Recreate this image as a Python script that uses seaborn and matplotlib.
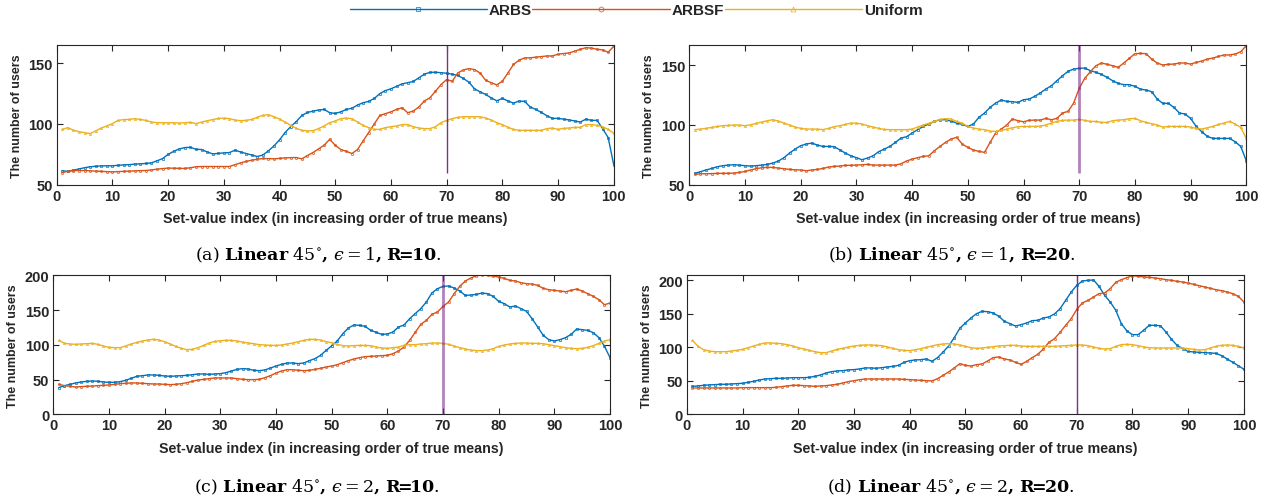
import numpy as np
import pandas as pd
import matplotlib
matplotlib.use("Agg")
import matplotlib.pyplot as plt
import seaborn as sns

# set-value index 1..100
set_index = list(range(1, 101))

# (a) Linear 45, eps=1, R=10
arbs_a = [61.5, 61, 62, 63, 64, 64.8, 65.2, 65.5, 65.6, 65.6, 66, 66.3, 66.5, 67, 67.2, 67.5, 68, 69.7, 71.5, 75,
          77.5, 79.5, 80.6, 80.8, 79.2, 79, 77, 75.4, 75.8, 76.2, 76.5, 78.4, 77, 75.7, 74.5, 73.2, 74.5, 77.9, 82, 87,
          93, 97.8, 102, 107, 109.5, 110.6, 111.5, 112, 109.3, 108.7, 110, 112, 113, 115.6, 117.5, 118.6, 121, 125, 127.5, 129,
          131, 133, 134, 135, 138, 141, 142.5, 142.6, 142.2, 141.8, 141, 140, 137.5, 134.4, 129, 126.5, 124.3, 121.5, 119.1, 121,
          119, 117.2, 118.9, 118.6, 114, 112, 109.5, 106.8, 104.6, 104.6, 104, 103.3, 102.5, 101.6, 104, 103, 103, 96.2, 88.8, 66.4]
arbsf_a = [60, 61, 61.7, 61.7, 61.7, 61.5, 61.2, 61, 60.8, 60.6, 60.8, 61, 61.2, 61.4, 61.6, 61.7, 62.2, 62.8, 63.3, 63.7,
           63.6, 63.5, 63.4, 64, 64.8, 65, 65, 65, 65, 65, 65, 66.5, 68, 69.2, 70.2, 71, 71.6, 71.5, 71.3, 71.7,
           72.1, 72.3, 72.4, 71.3, 74, 76.5, 79.5, 82.5, 87.4, 82.5, 79, 77.5, 75.7, 79, 86, 93, 100, 107, 108.5, 110,
           112, 113.4, 109.3, 110.6, 114, 118.9, 121.6, 127, 132.5, 136.6, 135.2, 142, 144.5, 145.6, 144.8, 142, 136, 134, 132.2, 135.2,
           142, 149, 152.5, 154.4, 154.5, 155, 155.5, 156, 156, 157.5, 158, 158.5, 160, 161.5, 162.8, 162.5, 161.5, 161, 159, 164]
uniform_a = [95.6, 97, 94.8, 93.7, 92.9, 92.1, 94.3, 96.7, 98.4, 100.3, 103, 103.6, 103.8, 104.4, 103.8, 103, 101.6, 101.1, 101, 101,
             101, 100.8, 101, 101.4, 100.3, 101.6, 102.7, 103.6, 104.6, 104.9, 104.4, 103.3, 102.7, 103, 103.8, 105.5, 107.1, 107.7, 106, 104.1,
             101.6, 98.9, 96.4, 94.8, 94.3, 94.5, 96.2, 98.4, 101.1, 102.5, 104.4, 104.9, 104.4, 101.6, 98.9, 97, 95.6, 95.6, 97, 97.8,
             98.4, 99.5, 99.5, 97.8, 96.7, 96.2, 96.2, 97.8, 101.1, 103, 104.4, 105.5, 106, 106, 106, 106, 104.9, 103.3, 101.1, 99.5,
             97.3, 95.6, 94.8, 94.8, 94.8, 94.8, 94.8, 96.2, 96.7, 95.6, 96.4, 96.7, 97.3, 97.3, 99.5, 99.5, 98.9, 97.8, 95.6, 92.3]

# (b) Linear 45, eps=1, R=20
arbs_b = [59.5, 60.9, 62.3, 63.6, 65, 65.9, 66.4, 66.7, 66.4, 65.9, 65.6, 65.9, 66.4, 67, 68.1, 69.8, 72.6, 76.5, 79.8, 82.6,
          84, 84.8, 83.1, 82, 82, 81.8, 79.2, 76.5, 74.2, 72.6, 70.9, 72.3, 74.2, 77.6, 79.8, 82, 85.4, 89, 90.1, 93.2,
          96, 98.7, 100.7, 102.9, 104.3, 104.3, 103.2, 101.5, 100.4, 98.7, 100.7, 106.3, 109.9, 114.6, 118.2, 120.8, 119.6, 119.4, 118.8, 121,
          121.6, 123.8, 126.6, 129.9, 132.7, 136.9, 141.1, 144.7, 146.7, 147.2, 147.5, 145.3, 143.9, 142.2, 139.7, 136.9, 134.7, 133.6, 133.6, 132.2,
          129.9, 129.1, 127.7, 121.6, 118, 118, 114.6, 109.9, 109.1, 105.4, 98.7, 94.3, 90.4, 88.7, 88.7, 88.7, 88.7, 85.9, 82, 70]
arbsf_b = [58.6, 59.2, 59.2, 59.3, 59.5, 59.5, 59.6, 59.7, 60.3, 61.1, 62.3, 63.4, 64.2, 64.5, 64.5, 63.9, 63.4, 62.8, 62.5, 62.3,
           61.7, 62.3, 62.8, 63.6, 64.8, 65.3, 65.6, 66.2, 66.2, 66.4, 66.7, 67, 66.4, 66.4, 66.4, 66.4, 66.4, 67.5, 69.8, 71.4,
           72.6, 73.7, 74.2, 78.4, 82, 85.4, 88.2, 89.6, 84, 81.2, 79, 77.9, 77, 85.4, 93.2, 96.5, 99.9, 104.9, 103.5, 102.6,
           103.8, 104, 104, 105.4, 104.3, 105.4, 109.9, 111.3, 118.2, 130.5, 138.9, 144.4, 149.4, 151.7, 150.6, 149.4, 148, 151.7, 155.6, 159.5,
           159.7, 159.5, 155, 151.7, 150, 150.6, 150.8, 151.7, 151.7, 150.8, 152.2, 153.3, 155, 155.8, 157.2, 158.4, 158.4, 159.2, 161.1, 166.2]
uniform_b = [96, 96.5, 97.1, 97.9, 98.7, 99.3, 99.6, 99.9, 99.9, 99.3, 100.1, 101.3, 102.4, 103.5, 104.3, 103.2, 101.5, 99.9, 98.2, 97.1,
             96.5, 96.5, 96.5, 96, 97.1, 98.5, 99.3, 100.4, 101.5, 101.5, 100.7, 99.3, 98.2, 97.1, 96.2, 96, 96, 96, 96, 96.5,
             98.2, 99.9, 101.3, 102.9, 104.6, 105.2, 104.9, 102.9, 101.4, 98.7, 97.4, 96.5, 96, 94.8, 94.6, 95.4, 96.5, 97.6, 98.5, 98.7,
             98.7, 98.7, 99, 99.9, 101.5, 102.9, 103.8, 104, 104, 104.6, 103.8, 102.9, 102.9, 102.1, 102.1, 103.5, 104, 104.3, 105.2, 105.4,
             103.5, 102.1, 101, 99.9, 98.2, 98.7, 98.7, 98.7, 98.7, 98.2, 97.1, 96.5, 97.6, 98.7, 100.4, 101.5, 102.9, 100.7, 97.9, 88.7]

# (c) Linear 45, eps=2, R=10
arbs_c = [38.4, 41.2, 43.1, 45.1, 46.5, 47.5, 47.9, 47.5, 46.5, 46, 46, 47, 48.9, 51.8, 54.7, 55.6, 56.6, 56.6, 56.1, 55.1,
          54.7, 55.1, 55.6, 56.1, 57, 58, 58, 57.5, 58, 58.5, 59.9, 62.3, 64.7, 65.7, 65.2, 63.3, 62.8, 63.8, 66.6, 69.5,
          71.9, 73.8, 73.8, 72.9, 73.8, 77.2, 80.1, 84.9, 92, 98.5, 105.5, 116, 124.2, 128.5, 128, 126.6, 120.8, 117.9, 115, 115.5,
          118.4, 125.6, 128.5, 137.6, 144.8, 152, 161.6, 174.5, 180.7, 184.1, 184.6, 181.7, 177.4, 171.1, 171.6, 172.6, 174.5, 173.5, 169.7, 162.5,
          159.2, 154.4, 155.8, 152, 148.1, 137.6, 125.6, 113.6, 107.4, 105.5, 107.4, 110.3, 115, 122.7, 121.8, 120.8, 117.4, 110.3, 97.8, 81.5]
arbsf_c = [43.1, 41.2, 40.3, 39.3, 39.8, 40.3, 40.7, 41.2, 41.7, 42.2, 43.1, 44.1, 44.6, 45.1, 45.1, 44.6, 44.1, 43.6, 43.6, 43.1,
           42.7, 43.1, 44.1, 45.5, 47.5, 49.4, 50.3, 51.3, 52.3, 52.3, 52.3, 52.3, 51.3, 50.3, 49.9, 49.9, 50.3, 52.7, 55.6, 59.4,
           62.3, 64.2, 64.2, 63.3, 62.8, 63.3, 64.7, 66.2, 68.1, 69.5, 71.4, 74.3, 77.2, 79.6, 81.5, 82.9, 83.4, 83.9, 84.4, 84.9,
           87.2, 91.1, 96.8, 106.4, 117.9, 129.4, 135.2, 143.8, 147.2, 155.3, 161.6, 173.5, 184.1, 191.8, 196.1, 199.4, 200.4, 199.9, 198.9, 197.5,
           195.6, 192.7, 191.8, 189.4, 187.9, 187.4, 185.5, 181.2, 179.3, 178.3, 177.4, 176.4, 178.3, 180.3, 177.4, 173.5, 169.7, 164.9, 157.7, 160.1]
uniform_c = [106.4, 102.1, 101.2, 100.7, 101.2, 101.6, 102.1, 100.7, 98.3, 96.4, 95.9, 95.9, 98.3, 101.2, 103.5, 105.5, 106.9, 107.9, 106.9, 104.5,
             101.2, 97.8, 94.9, 93, 93.5, 95.9, 99.2, 102.6, 105, 105.9, 106.4, 106.4, 105.5, 104, 102.6, 101.6, 100.2, 99.7, 99.2, 99.2,
             99.7, 101.2, 102.6, 104.5, 106.4, 107.9, 107.9, 106.9, 104.5, 103, 100.7, 98.8, 98.3, 98.8, 99.2, 99.2, 98.8, 96.8, 95.4, 94.9,
             95.9, 96.8, 99.2, 100.2, 100.2, 101.2, 101.6, 102.6, 102.6, 102.1, 100.7, 98.3, 95.9, 94, 92.5, 91.6, 91.6, 92.5, 94.4, 97.8,
             99.7, 101.2, 102.1, 102.6, 102.6, 102.1, 102.1, 101.6, 100.2, 98.8, 97.3, 95.9, 94.9, 94.4, 94.9, 96.4, 98.8, 102.1, 105.5, 107.4]

# (d) Linear 45, eps=2, R=20
arbs_d = [41.8, 42.3, 43.3, 43.8, 44.3, 44.8, 44.8, 45.3, 45.8, 46.3, 47.8, 49.3, 51.2, 52.7, 53.2, 53.7, 53.7, 54.2, 54.7, 54.7,
          54.7, 55.2, 56.7, 58.7, 61.7, 63.7, 64.7, 65.2, 66.2, 66.7, 67.7, 69.2, 69.2, 68.7, 69.7, 70.6, 71.6, 73.1, 77.6, 80.1,
          81.1, 81.6, 82.6, 79.1, 84.6, 93, 102, 114.4, 128.4, 136.3, 143.8, 150.2, 153.7, 153.2, 151.2, 146.3, 138.8, 135.3, 131.8, 133.8,
          136.3, 139.8, 140.3, 143.8, 145.3, 149.8, 157.7, 170.1, 182.6, 192.5, 199, 200, 200.5, 191, 177.6, 167.7, 155.2, 135.3, 124.4, 118.9,
          118.9, 125.4, 132.8, 132.8, 132.3, 122.9, 111.9, 103, 98, 94, 93, 92.5, 92, 91.5, 91, 87.6, 82.6, 77.6, 72.6, 67.2]
arbsf_d = [39.3, 39.3, 39.3, 39.3, 39.3, 39.3, 39.3, 39.3, 39.3, 39.8, 39.8, 39.8, 39.8, 39.8, 39.8, 40.3, 41.3, 42.3, 43.3, 43.3,
           42.8, 42.3, 41.8, 42.3, 42.8, 43.8, 44.8, 46.8, 48.8, 50.2, 51.7, 52.7, 52.7, 52.7, 52.7, 52.7, 52.7, 52.7, 52.2, 51.7,
           51.2, 50.7, 50.2, 49.8, 53.2, 58.2, 63.2, 69.2, 75.6, 73.1, 72.1, 74.1, 75.1, 79.6, 84.6, 85.6, 82.6, 81.1, 77.6, 74.6,
           79.1, 84.6, 89.6, 97.5, 107.5, 112.9, 122.4, 132.8, 142.8, 156.7, 166.2, 170.1, 175.1, 180.1, 181.1, 187.6, 197, 201, 204, 207,
           206, 205, 204.5, 203.5, 202.5, 201, 200, 198.5, 197.5, 196, 194, 192, 190, 188, 186, 184.6, 182.6, 180.1, 176.1, 167.7]
uniform_d = [110.4, 101.5, 96.5, 94.5, 93.5, 93.5, 93.5, 94.5, 95.5, 97, 99.5, 102, 104.5, 106.5, 106.5, 106, 105.5, 104, 102, 99.5,
             97.5, 95.5, 93.5, 92, 92, 94.5, 97, 98.5, 100.5, 102, 103, 103.5, 103.5, 103, 102.5, 100.5, 98.5, 96.5, 95.5, 95,
             96.5, 98, 100, 102, 104, 105, 105.5, 105, 103.5, 101.5, 99.5, 98.5, 99, 100, 101, 102, 102.5, 103, 103, 102,
             101.5, 101.5, 101.5, 101.5, 101.5, 101.5, 102, 102.5, 103, 103.5, 103.5, 102.5, 100.5, 98.5, 97.5, 98, 101.5, 104, 104.5, 104,
             102.5, 100.5, 99.5, 99, 99, 99, 99, 99, 99, 98, 97, 96, 96.5, 99, 101.5, 103, 103.5, 103, 101.5, 99]

panels = [
    ("a", arbs_a, arbsf_a, uniform_a, (50, 165), [50, 100, 150], 60, "1", "10"),
    ("b", arbs_b, arbsf_b, uniform_b, (50, 166.7), [50, 100, 150], 59.5, "1", "20"),
    ("c", arbs_c, arbsf_c, uniform_c, (0, 200), [0, 50, 100, 150, 200], 0, "2", "10"),
    ("d", arbs_d, arbsf_d, uniform_d, (0, 207.5), [0, 50, 100, 150, 200], 0, "2", "20"),
]

# axes rectangles in figure fractions
positions = {
    "a": [0.0446, 0.630, 0.4379, 0.2783],
    "b": [0.5419, 0.630, 0.4379, 0.2783],
    "c": [0.0419, 0.1727, 0.4377, 0.2769],
    "d": [0.5400, 0.1727, 0.4379, 0.2769],
}
caption_pos = {"a": (0.250, 0.492), "b": (0.748, 0.492), "c": (0.249, 0.030), "d": (0.747, 0.030)}

BLUE, RED, YELLOW, PURPLE = "#0072BD", "#D95319", "#EDB120", "#7E2F8E"
AX_COLOR = "#262626"
EPS = "\u03f5"  # lunate epsilon

sns.set_style("ticks")
plt.rcParams["font.family"] = ["Liberation Sans", "DejaVu Sans"]
plt.rcParams["mathtext.fontset"] = "dejavuserif"

fig = plt.figure(figsize=(12.72, 5.02), dpi=100)

for name, arbs, arbsf, uni, ylim, yticks, vmin, eps, r in panels:
    ax = fig.add_axes(positions[name])
    df = pd.DataFrame({"idx": set_index, "ARBS": arbs, "ARBSF": arbsf, "Uniform": uni})
    line_kw = dict(linewidth=1.0, markersize=1.6, markeredgewidth=0.5, markerfacecolor="none")
    sns.lineplot(data=df, x="idx", y="ARBS", ax=ax, color=BLUE, marker="s", markeredgecolor=BLUE,
                 label="ARBS", **line_kw)
    sns.lineplot(data=df, x="idx", y="ARBSF", ax=ax, color=RED, marker="o", markeredgecolor=RED,
                 label="ARBSF", **line_kw)
    sns.lineplot(data=df, x="idx", y="Uniform", ax=ax, color=YELLOW, marker="^", markeredgecolor=YELLOW,
                 label="Uniform", **line_kw)
    # threshold marker at index 70
    lw_v = 2.0 if name in ("b", "c") else 1.0
    alpha_v = 0.6 if name in ("b", "c") else 1.0
    ax.vlines(70, vmin, ylim[1], color=PURPLE, linewidth=lw_v, alpha=alpha_v)

    ax.set_xlim(0, 100)
    ax.set_ylim(*ylim)
    ax.set_xticks(range(0, 101, 10))
    ax.set_yticks(yticks)
    ax.tick_params(direction="in", top=True, right=True, length=4, width=0.8,
                   labelsize=10.5, colors=AX_COLOR, pad=3)
    for lab in ax.get_xticklabels() + ax.get_yticklabels():
        lab.set_fontweight("bold")
    for sp in ax.spines.values():
        sp.set_visible(True)
        sp.set_color(AX_COLOR)
        sp.set_linewidth(0.8)
    ax.set_xlabel("Set-value index (in increasing order of true means)", fontsize=10.3,
                  fontweight="bold", color=AX_COLOR, labelpad=6)
    ax.set_ylabel("The number of users", fontsize=9, fontweight="bold", color=AX_COLOR, labelpad=4)
    handles, labels = ax.get_legend_handles_labels()
    ax.get_legend().remove()

    cx, cy = caption_pos[name]
    caption = ("(" + name + ") " + r"$\mathbf{Linear}$ $45^{\circ}$$\mathbf{,}$ $" + EPS + " = " + eps
               + r"$$\mathbf{,}$ $\mathbf{R\!\!=\!\!" + r + r"}$.")
    fig.text(cx, cy, caption, ha="center", va="center", fontsize=12.5,
             family=["DejaVu Serif"], color="black")

fig.legend(handles, labels, loc="center", bbox_to_anchor=(0.5, 0.978), ncol=3, frameon=False,
           handlelength=9, handletextpad=0.1, columnspacing=0.05, markerscale=2.2,
           prop={"weight": "bold", "size": 11})

fig.savefig("out.png", dpi=100)
